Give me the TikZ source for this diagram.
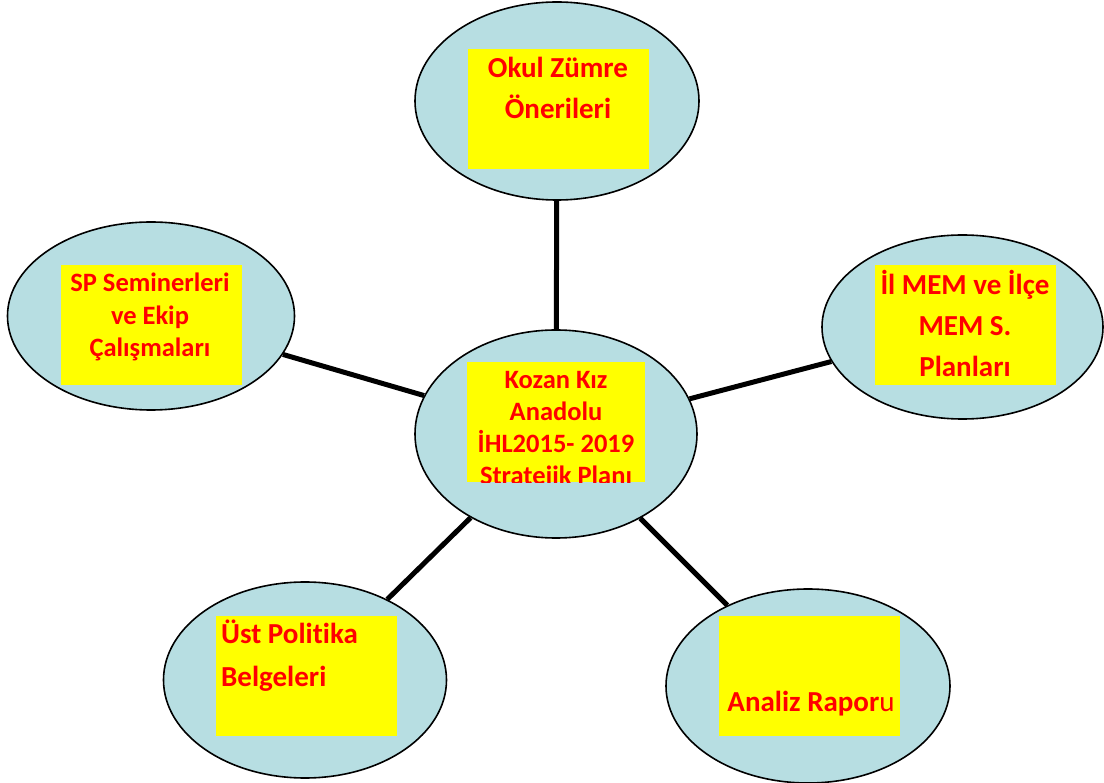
\documentclass[tikz,border=0pt]{standalone}
\usepackage{fontspec}
\setmainfont{Carlito}[Ligatures=NoCommon]
\usepackage{xcolor}
\usetikzlibrary{shapes.geometric}
\definecolor{balloonblue}{RGB}{183,222,226}
\definecolor{noteyellow}{RGB}{255,255,0}
\definecolor{notered}{RGB}{255,0,0}

\begin{document}
\begin{tikzpicture}[x=1pt,y=-1pt,
		balloon/.style={ellipse,draw=black,line width=1.6pt,fill=balloonblue,inner sep=0pt},
		notebox/.style={fill=noteyellow,minimum width=181pt,minimum height=120pt,inner sep=0pt},
		notetext/.style={text=notered,inner sep=0pt,align=center},
		link/.style={line width=5pt,black}]
			% The frame
			\useasboundingbox (0,0) rectangle (1104,783);

			% The balloons
			\node[balloon,minimum width=284pt,minimum height=198pt] (zumre) at (557,101) {};
			\node[balloon,minimum width=282pt,minimum height=208pt] (merkez) at (556,434) {};
			\node[balloon,minimum width=281pt,minimum height=184pt] (ilmem) at (962.5,327) {};
			\node[balloon,minimum width=287pt,minimum height=188pt] (seminer) at (151,316) {};
			\node[balloon,minimum width=283pt,minimum height=196pt] (politika) at (305,680) {};
			\node[balloon,minimum width=284pt,minimum height=194pt] (analiz) at (808,686) {};

			% The links
			\draw[link] (merkez) -- (zumre);
			\draw[link] (merkez) -- (ilmem);
			\draw[link] (merkez) -- (seminer);
			\draw[link] (merkez) -- (politika);
			\draw[link] (merkez) -- (analiz);

			% The notes
			\node[notebox] (zumrenot) at (558.5,109) {};
			\node[notetext,anchor=north,font=\fontsize{29}{41}\selectfont\bfseries] (zumreyazi) at (558,57) {Okul Zümre\\Önerileri};

			\node[notebox,minimum width=178pt] (merkeznot) at (556,422) {};
			\begin{scope}
				\clip (merkeznot.south west) rectangle (merkeznot.north east);
				\node[notetext,anchor=north,font=\fontsize{26.5}{32}\selectfont\bfseries] (merkezyazi) at (556,371) {Kozan Kız\\Anadolu\\İHL2015- 2019\\Stratejik Planı};
			\end{scope}

			\node[notebox] (ilmemnot) at (965.5,325.5) {};
			\node[notetext,anchor=north,font=\fontsize{29}{41}\selectfont\bfseries] (ilmemyazi) at (965,270) {İl MEM ve İlçe\\MEM S.\\Planları};

			\node[notebox] (seminernot) at (151.5,325) {};
			\node[notetext,anchor=north,font=\fontsize{26.5}{32.5}\selectfont\bfseries] (seminyazi) at (150,273) {SP Seminerleri\\ve Ekip\\Çalışmaları};

			\node[notebox] (politikanot) at (306.5,676) {};
			\node[notetext,anchor=north west,align=left,font=\fontsize{29}{43}\selectfont\bfseries] (politikayazi) at (221,620) {Üst Politika\\Belgeleri};

			\node[notebox] (analiznot) at (809.5,676) {};
			\node[notetext,anchor=base,font=\fontsize{29}{41}\selectfont] (analizyazi) at (811,711) {\textbf{Analiz Rapor}u};
		\end{tikzpicture}
\end{document}
